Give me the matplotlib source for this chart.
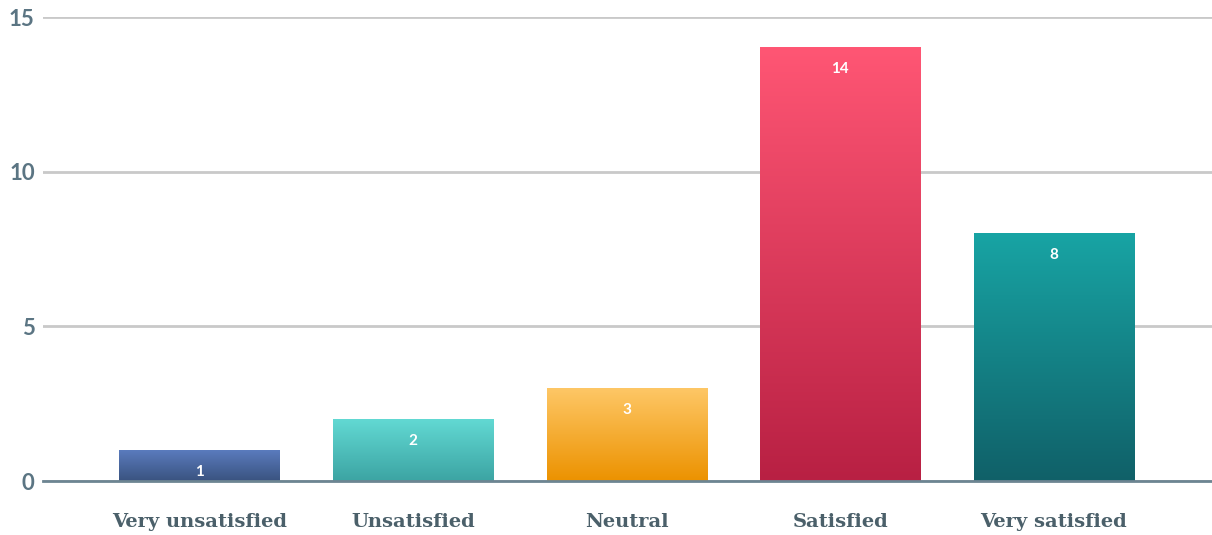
import numpy as np
import matplotlib.pyplot as plt
from matplotlib.colors import LinearSegmentedColormap

categories = ['Very unsatisfied', 'Unsatisfied', 'Neutral', 'Satisfied', 'Very satisfied']
counts = [1, 2, 3, 14, 8]
top_colors = ['#5a7bbd', '#62d9d3', '#fec766', '#ff5674', '#18a4a4']
bottom_colors = ['#3a5380', '#3ca4a3', '#ec9200', '#b82043', '#106068']

fig = plt.figure(figsize=(12.12, 5.35), dpi=100)
ax = fig.add_axes([43 / 1212, 54 / 535, 1 - 43 / 1212, 464 / 535])

width = 0.75
grad = np.linspace(1, 0, 256).reshape(-1, 1)
for i, (v, c1, c2) in enumerate(zip(counts, top_colors, bottom_colors)):
    cmap = LinearSegmentedColormap.from_list('g%d' % i, [c2, c1])
    ax.imshow(grad, cmap=cmap, aspect='auto', extent=(i - width / 2, i + width / 2, 0, v),
              origin='upper', zorder=2)
    ax.annotate(str(v), (i, v), xytext=(0, -15.5), textcoords='offset points',
                ha='center', va='center', color='white', fontsize=11,
                fontweight='bold', family='Lato', zorder=3)

ax.set_xlim(-0.733, 4.74)
ax.set_ylim(0, 15)
ax.set_yticks([0, 5, 10, 15])
ax.set_xticks(range(len(categories)))
ax.set_xticklabels(categories, family='DejaVu Serif', fontweight='bold',
                   fontsize=14, color='#4b606a')
for lbl in ax.get_yticklabels():
    lbl.set_family('Lato')
    lbl.set_fontweight('bold')
    lbl.set_fontsize(16)
    lbl.set_color('#5b7583')
ax.tick_params(axis='both', length=0)
ax.tick_params(axis='x', pad=23)
ax.tick_params(axis='y', pad=6)
ax.grid(axis='y', color='#c9c9c9', linewidth=2, zorder=0)
ax.set_axisbelow(True)
for s in ['top', 'right', 'left']:
    ax.spines[s].set_visible(False)
ax.spines['bottom'].set_color('#6d8592')
ax.spines['bottom'].set_linewidth(2)
ax.spines['bottom'].set_zorder(4)

fig.savefig('out.png', dpi=100)
